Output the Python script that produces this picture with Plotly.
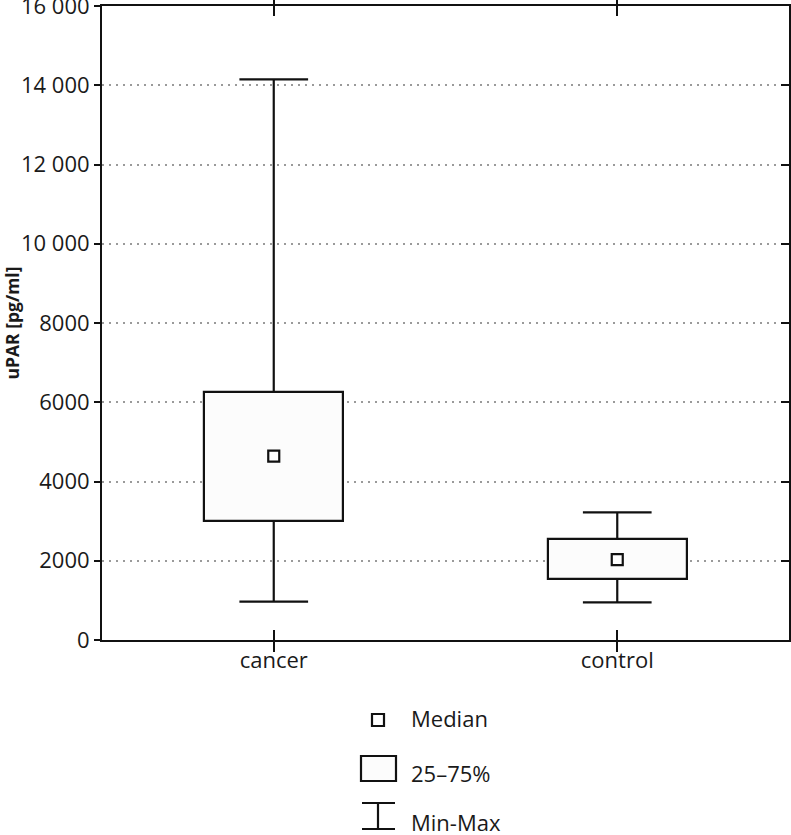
import plotly.graph_objects as go

categories = ["cancer", "control"]
q_min = [970, 950]
q1 = [3000, 1540]
median = [4640, 2030]
q3 = [6270, 2540]
q_max = [14150, 3220]

y_tickvals = [0, 2000, 4000, 6000, 8000, 10000, 12000, 14000, 16000]
y_ticktext = ["0", "2000", "4000", "6000", "8000", "10 000", "12 000", "14 000", "16 000"]

W, H = 791, 835
ML, MR, MT, MB = 102, 2, 6, 195
PW, PH = W - ML - MR, H - MT - MB

FONT = "Open Sans"
FS = 22
TXT = "#1a1a1a"
BOX_W = 0.406
CAP_H = 0.1
xs = list(range(len(categories)))

fig = go.Figure()

# boxes (25-75%)
fig.add_trace(go.Bar(
    x=xs, y=[b - a for a, b in zip(q1, q3)], base=q1, width=BOX_W,
    marker=dict(color="#fcfcfc", line=dict(color="#111111", width=2.2)),
    showlegend=False, hoverinfo="skip"))

# whiskers
wx, wy = [], []
for i in xs:
    wx += [i, i, None, i - CAP_H, i + CAP_H, None, i, i, None, i - CAP_H, i + CAP_H, None]
    wy += [q3[i], q_max[i], None, q_max[i], q_max[i], None, q1[i], q_min[i], None, q_min[i], q_min[i], None]
fig.add_trace(go.Scatter(x=wx, y=wy, mode="lines", line=dict(color="#111111", width=2.2),
                         showlegend=False, hoverinfo="skip"))

# medians
fig.add_trace(go.Scatter(x=xs, y=median, mode="markers",
                         marker=dict(symbol="square", size=11, color="white",
                                     line=dict(color="#111111", width=2.2)),
                         showlegend=False))

# invisible trace for right axis
fig.add_trace(go.Scatter(x=[0], y=[0], yaxis="y2", mode="markers",
                         marker=dict(opacity=0), showlegend=False, hoverinfo="skip"))

def px(x):
    return (x - ML) / PW

def py(y):
    return (H - MB - y) / PH

shapes = []
# legend: median square
shapes.append(dict(type="rect", xref="paper", yref="paper",
                   x0=px(372), x1=px(384), y0=py(726), y1=py(714),
                   line=dict(color="#111111", width=2.2), fillcolor="white"))
# legend: box
shapes.append(dict(type="rect", xref="paper", yref="paper",
                   x0=px(361), x1=px(396), y0=py(781), y1=py(756),
                   line=dict(color="#111111", width=2.2), fillcolor="#fcfcfc"))
# legend: I-beam
for (x0, y0, x1, y1) in [(362, 803, 395, 803), (362, 829, 395, 829), (378, 803, 378, 829)]:
    shapes.append(dict(type="line", xref="paper", yref="paper",
                       x0=px(x0), x1=px(x1), y0=py(y0), y1=py(y1),
                       line=dict(color="#111111", width=2.2)))

legend_labels = ["Median", "25–75%", "Min-Max"]
legend_y = [718, 773, 822]
annotations = [dict(text=t, xref="paper", yref="paper", x=px(409), y=py(yy),
                    xanchor="left", yanchor="middle", showarrow=False,
                    font=dict(family=FONT, size=FS, color=TXT))
               for t, yy in zip(legend_labels, legend_y)]

fig.update_layout(
    width=W, height=H,
    margin=dict(l=ML, r=MR, t=MT, b=MB),
    paper_bgcolor="white", plot_bgcolor="white",
    font=dict(family=FONT, size=FS, color=TXT),
    bargap=0,
    shapes=shapes, annotations=annotations,
    xaxis=dict(range=[-0.5, 1.5], tickvals=xs, ticktext=categories,
               ticks="inside", ticklen=10, tickwidth=2, tickcolor="#111111",
               showline=True, linecolor="#111111", linewidth=2, mirror="allticks",
               showgrid=False, zeroline=False, automargin=False,
               tickfont=dict(family=FONT, size=FS, color=TXT)),
    yaxis=dict(range=[0, 16000], tickvals=y_tickvals, ticktext=y_ticktext,
               ticks="outside", ticklen=6, tickwidth=2, tickcolor="#111111",
               showline=True, linecolor="#111111", linewidth=2, mirror=True,
               showgrid=True, gridcolor="#9a9a9a", griddash="2px,5px", gridwidth=1.5,
               zeroline=False, automargin=False, ticklabeloverflow="allow",
               tickfont=dict(family=FONT, size=FS, color=TXT),
               title=dict(text="<b>uPAR [pg/ml]</b>", standoff=3,
                          font=dict(family=FONT, size=17.5, color=TXT))),
    yaxis2=dict(range=[0, 16000], overlaying="y", side="right",
                tickvals=y_tickvals, showticklabels=False, automargin=False,
                ticks="inside", ticklen=8, tickwidth=2, tickcolor="#111111",
                showline=False, showgrid=False, zeroline=False),
)

fig.write_html("out.html", config={"displayModeBar": False},
               post_script="document.body.style.margin='0';")
